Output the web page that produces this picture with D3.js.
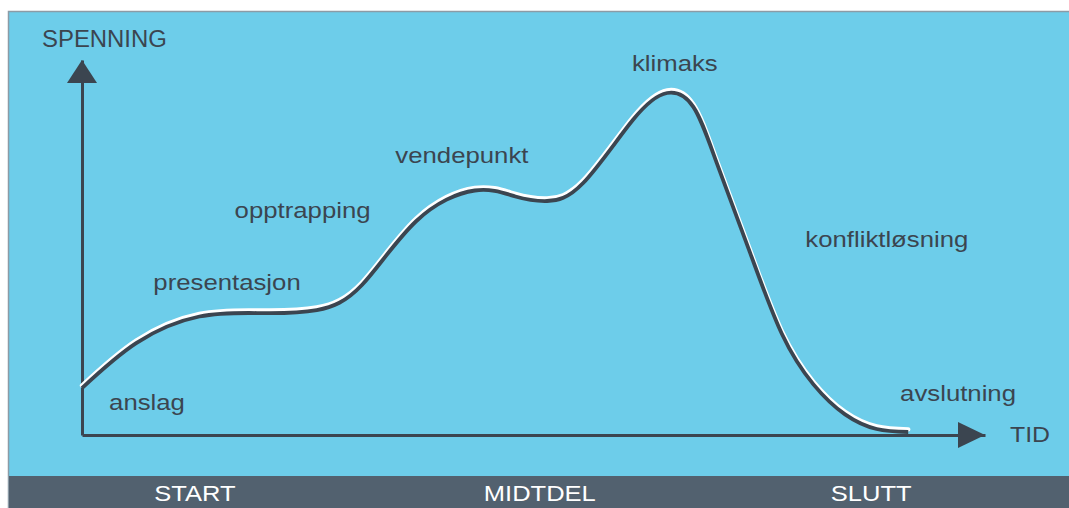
<!DOCTYPE html>
<html>
<head>
<meta charset="utf-8">
<script src="https://cdn.jsdelivr.net/npm/d3@7"></script>
<style>
  body { margin: 0; background: #fff; }
  svg { display: block; font-family: "Liberation Sans", Arial, sans-serif; }
</style>
</head>
<body>
<div id="chart"></div>
<script>
// curve: tid (0-100) vs spenning (0-100)
const tid      = [0, 6, 13, 20, 26, 31, 37, 43.5, 48, 51.5, 55.5, 61, 64.8, 67.7, 70.3, 74, 77.5, 81, 84.5, 88, 91.5];
const spenning = [12.5, 24.5, 31.6, 32.5, 33.3, 40, 57, 65.2, 63.6, 62.4, 67.2, 84, 91.2, 87.5, 72.5, 48.5, 27, 13.5, 5.5, 1.6, 0.8];

const labelNames = ["anslag", "presentasjon", "opptrapping", "vendepunkt", "klimaks", "konfliktløsning", "avslutning"];
const labelTid   = [3.0, 7.9, 16.9, 34.7, 60.9, 80.1, 90.6];
const labelSpenn = [6.7, 38.7, 57.9, 72.5, 97.1, 50.1, 9.1];

const phases   = ["START", "MIDTDEL", "SLUTT"];
const phaseTid = [12.5, 50.7, 87.4];

const W = 1069, H = 508;
const ink = "#3b4550";
const bg = "#6dcdea";
const strip = "#52616f";

const svg = d3.select("#chart").append("svg")
    .attr("width", W)
    .attr("height", H)

// panel
svg.append("rect")
    .attr("x", 8.5).attr("y", 11.5)
    .attr("width", W).attr("height", H)
    .attr("fill", bg)
    .attr("stroke", "#8c9ba6")
    .attr("stroke-width", 1.5)

svg.append("rect")
    .attr("x", 9).attr("y", 476)
    .attr("width", W).attr("height", H - 476)
    .attr("fill", strip)

const x = d3.scaleLinear().domain([0, 100]).range([82, 985]);
const y = d3.scaleLinear().domain([0, 100]).range([435, 60]);

// axes, no ticks
svg.append("g")
    .attr("transform", `translate(0,${y(0)})`)
    .call(d3.axisBottom(x).ticks(0).tickSizeOuter(0))
    .call(g => g.select(".domain").attr("stroke", ink).attr("stroke-width", 3))

svg.append("g")
    .attr("transform", `translate(${x(0)},0)`)
    .call(d3.axisLeft(y).ticks(0).tickSizeOuter(0))
    .call(g => g.select(".domain").attr("stroke", ink).attr("stroke-width", 3))

// arrow heads
svg.append("path")
    .attr("d", `M${x(100)},${y(0)} L${x(100) - 27},${y(0) - 13} L${x(100) - 27},${y(0) + 13} Z`)
    .attr("fill", ink)
svg.append("path")
    .attr("d", `M${x(0)},${y(100)} L${x(0) - 15},${y(100) + 23} L${x(0) + 15},${y(100) + 23} Z`)
    .attr("fill", ink)

// curve
const pts = tid.map((t, i) => [t, spenning[i]]);
const line = d3.line()
    .x(d => x(d[0]))
    .y(d => y(d[1]))
    .curve(d3.curveNatural)

svg.append("path")
    .datum(pts)
    .attr("d", line)
    .attr("transform", "translate(0,-2.6)")
    .attr("fill", "none")
    .attr("stroke", "#ffffff")
    .attr("stroke-width", 4.4)
    .attr("stroke-linecap", "round")

svg.append("path")
    .datum(pts)
    .attr("d", line)
    .attr("fill", "none")
    .attr("stroke", ink)
    .attr("stroke-width", 3.8)

// labels
function label(txt, px, py, opts = {}) {
    svg.append("text")
        .attr("transform", `translate(${px},${py}) scale(${opts.stretch || 1.17},1)`)
        .attr("text-anchor", opts.anchor || "start")
        .attr("font-size", opts.size || 22)
        .attr("fill", opts.color || ink)
        .text(txt)
}

labelNames.forEach((n, i) => label(n, x(labelTid[i]), y(labelSpenn[i])));

label("SPENNING", 42, 47, {size: 23, stretch: 1.04});
label("TID", 1010, 442, {stretch: 1.13});

phases.forEach((p, i) => label(p, x(phaseTid[i]), 501, {anchor: "middle", stretch: 1.16, color: "#ffffff"}));
</script>
</body>
</html>
